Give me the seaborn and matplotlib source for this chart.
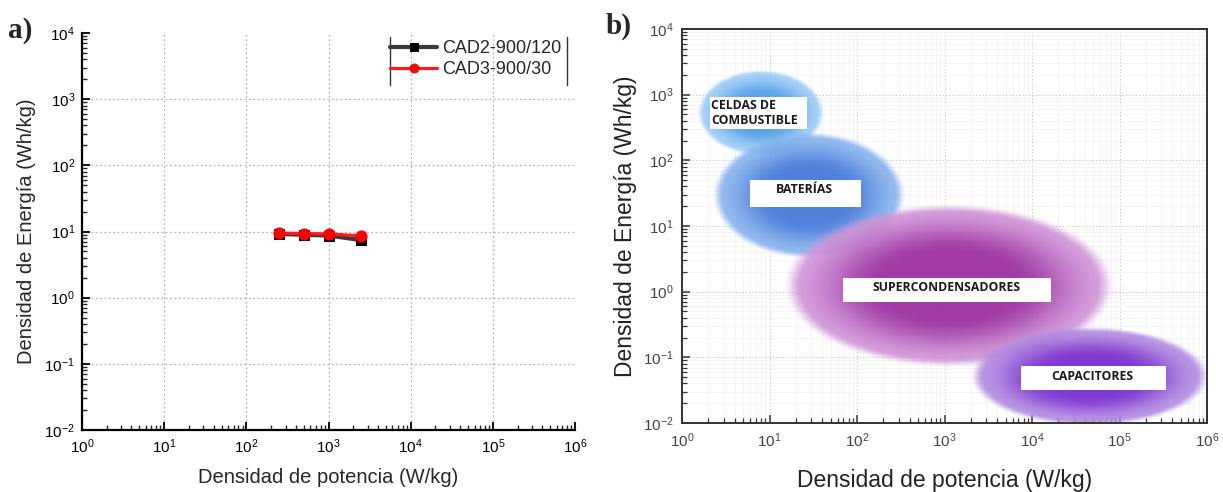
import numpy as np
import pandas as pd
import matplotlib
matplotlib.use("Agg")
import matplotlib.pyplot as plt
from matplotlib.patches import Rectangle
from matplotlib.ticker import LogLocator, NullFormatter
import seaborn as sns

# ---- Panel a: measured cells ----
power_cad2 = [250, 500, 1000, 2500]          # W/kg
energy_cad2 = [9.2, 8.9, 8.7, 7.4]           # Wh/kg
power_cad3 = [250, 500, 1000, 2500]
energy_cad3 = [9.5, 9.3, 9.2, 8.6]
series_names = ["CAD2-900/120", "CAD3-900/30"]

# ---- Panel b: Ragone regions (log10 centre and log10 half-widths) ----
region_names = ["CELDAS DE\nCOMBUSTIBLE", "BATERÍAS", "SUPERCONDENSADORES", "CAPACITORES"]
region_logx = [0.90, 1.45, 3.05, 4.66]
region_logy = [2.725, 1.47, 0.093, -1.29]
region_halfx = [0.72, 1.09, 1.865, 1.35]
region_halfy = [0.65, 0.955, 1.23, 0.75]

sns.set_style("white")
plt.rcParams["font.family"] = ["Liberation Sans", "DejaVu Sans"]
plt.rcParams["mathtext.fontset"] = "custom"
plt.rcParams["mathtext.rm"] = "Liberation Sans"
plt.rcParams["mathtext.it"] = "Liberation Sans:italic"
plt.rcParams["mathtext.bf"] = "Liberation Sans:bold"

fig = plt.figure(figsize=(12.23, 4.92), dpi=100)
ax1 = fig.add_axes([82 / 1223, 62 / 492, 493 / 1223, 397 / 492])
ax2 = fig.add_axes([682 / 1223, 69 / 492, 525 / 1223, 394 / 492])

# ================= Panel a =================
ax1.set_xscale("log")
ax1.set_yscale("log")
ax1.set_xlim(1, 1e6)
ax1.set_ylim(1e-2, 1e4)

# dotted decade grid inside the frame
for e in range(1, 6):
    ax1.axvline(10.0 ** e, color="#b5b5b5", ls=(0, (1.5, 2)), lw=0.9, zorder=0)
for e in range(-1, 4):
    ax1.axhline(10.0 ** e, color="#b5b5b5", ls=(0, (1.5, 2)), lw=0.9, zorder=0)

df2 = pd.DataFrame({"p": power_cad2, "e": energy_cad2})
df3 = pd.DataFrame({"p": power_cad3, "e": energy_cad3})
sns.lineplot(data=df2, x="p", y="e", ax=ax1, color="#3a3a3a", lw=3.0,
             marker="s", markersize=7, markerfacecolor="black",
             markeredgecolor="black", label=series_names[0], zorder=3)
sns.lineplot(data=df3, x="p", y="e", ax=ax1, color="#ff1a1a", lw=2.3,
             marker="o", markersize=8, markerfacecolor="#ff0000",
             markeredgecolor="#ff0000", label=series_names[1], zorder=4)

for s in ["top", "right"]:
    ax1.spines[s].set_visible(False)
for s in ["left", "bottom"]:
    ax1.spines[s].set_color("black")
    ax1.spines[s].set_linewidth(1.6)

ax1.xaxis.set_major_locator(LogLocator(base=10, numticks=10))
ax1.yaxis.set_major_locator(LogLocator(base=10, numticks=10))
ax1.xaxis.set_minor_locator(LogLocator(base=10, subs=np.arange(2, 10), numticks=20))
ax1.yaxis.set_minor_locator(LogLocator(base=10, subs=np.arange(2, 10), numticks=20))
ax1.xaxis.set_minor_formatter(NullFormatter())
ax1.yaxis.set_minor_formatter(NullFormatter())
ax1.tick_params(which="major", direction="in", length=6, width=1.3, labelsize=11,
                colors="black", bottom=True, left=True, pad=5)
ax1.tick_params(which="minor", direction="in", length=3.5, width=1.0,
                bottom=True, left=True)
ax1.set_xlabel("Densidad de potencia (W/kg)", fontsize=14.5, labelpad=9)
ax1.set_ylabel("Densidad de Energía (Wh/kg)", fontsize=14.5, labelpad=6)

leg = ax1.legend(loc="upper right", bbox_to_anchor=(0.995, 1.01), frameon=False,
                 fontsize=13, handlelength=2.6, handletextpad=0.3,
                 labelspacing=0.25, borderaxespad=0.2, markerscale=0.8)
# legend box drawn with side rules only
for xr in (0.625, 0.984):
    ax1.plot([xr, xr], [0.868, 0.99], transform=ax1.transAxes, color="#333333",
             lw=1.0, clip_on=False)

fig.text(8 / 1223, 1 - 30 / 492, "a)", fontsize=21, fontweight="bold",
         family="Liberation Serif", va="center", ha="left")

# ================= Panel b =================
ax2.set_xscale("log")
ax2.set_yscale("log")
ax2.set_xlim(1, 1e6)
ax2.set_ylim(1e-2, 1e4)
ax2.set_axisbelow(True)

ax2.xaxis.set_major_locator(LogLocator(base=10, numticks=10))
ax2.yaxis.set_major_locator(LogLocator(base=10, numticks=10))
ax2.xaxis.set_minor_locator(LogLocator(base=10, subs=np.arange(2, 10), numticks=20))
ax2.yaxis.set_minor_locator(LogLocator(base=10, subs=np.arange(2, 10), numticks=20))
ax2.xaxis.set_minor_formatter(NullFormatter())
ax2.yaxis.set_minor_formatter(NullFormatter())
ax2.grid(True, which="minor", color="#f2f2f2", lw=0.6, ls="-")
ax2.grid(True, which="major", color="#c8c8c8", lw=0.8, ls=(0, (1.2, 1.8)))

# soft radial-gradient regions composited in log space
n = 700
lx_edges = np.linspace(0, 6, n + 1)
ly_edges = np.linspace(-2, 4, n + 1)
lxc = 0.5 * (lx_edges[1:] + lx_edges[:-1])
lyc = 0.5 * (ly_edges[1:] + ly_edges[:-1])
LX, LY = np.meshgrid(lxc, lyc)

centre_cols = ["#4c9ce8", "#3d72d6", "#9a2a9e", "#7426cc"]
edge_cols = ["#9fcdf7", "#86b3ee", "#cf95d7", "#b28de1"]
max_alpha = [0.92, 0.9, 0.92, 0.9]


def smooth(a, b, v):
    t = np.clip((v - a) / (b - a), 0, 1)
    return t * t * (3 - 2 * t)


rgb = np.zeros(LX.shape + (3,))
alpha = np.zeros(LX.shape)
for i in range(len(region_names)):
    r = np.sqrt(((LX - region_logx[i]) / region_halfx[i]) ** 2 +
                ((LY - region_logy[i]) / region_halfy[i]) ** 2)
    c0 = np.array(matplotlib.colors.to_rgb(centre_cols[i]))
    c1 = np.array(matplotlib.colors.to_rgb(edge_cols[i]))
    t = smooth(0.4, 0.95, r)[..., None]
    col = c0 * (1 - t) + c1 * t
    a = max_alpha[i] * (1 - smooth(0.9, 1.02, r))
    rgb = col * a[..., None] + rgb * (1 - a[..., None])
    alpha = a + alpha * (1 - a)

rgba = np.zeros(LX.shape + (4,))
safe = np.where(alpha > 1e-6, alpha, 1)
rgba[..., :3] = np.clip(rgb / safe[..., None], 0, 1)
rgba[..., 3] = alpha
ax2.pcolormesh(10 ** lx_edges, 10 ** ly_edges, rgba, shading="flat", zorder=1,
               rasterized=True)

# white label boxes (axes-fraction placement)
boxes = [(0.053, 0.745, 0.185, 0.083),
         (0.1286, 0.548, 0.213, 0.069),
         (0.306, 0.308, 0.396, 0.061),
         (0.645, 0.084, 0.276, 0.061)]
text_pos = [(0.055, 0.787, "left"),
            (0.234, 0.593, "center"),
            (0.503, 0.345, "center"),
            (0.782, 0.119, "center")]
for (bx, by, bw, bh), (tx, ty, ha), name in zip(boxes, text_pos, region_names):
    ax2.add_patch(Rectangle((bx, by), bw, bh, transform=ax2.transAxes,
                            facecolor="white", edgecolor="none", zorder=5))
    ax2.text(tx, ty, name, transform=ax2.transAxes, ha=ha, va="center",
             family="Open Sans", fontweight="bold", fontsize=8.8,
             color="#1a1a1a", linespacing=1.15, zorder=6)

for s in ax2.spines.values():
    s.set_color("#333333")
    s.set_linewidth(1.4)
    s.set_zorder(7)
ax2.tick_params(which="major", direction="in", length=6, width=1.1, labelsize=11,
                labelcolor="#444444", color="#333333", bottom=True, left=True, pad=6)
ax2.tick_params(which="minor", direction="in", length=3.5, width=0.9,
                color="#333333", bottom=True, left=True)
ax2.set_xlabel("Densidad de potencia (W/kg)", fontsize=16.5, labelpad=14,
               color="#222222")
ax2.set_ylabel("Densidad de Energía (Wh/kg)", fontsize=16.5, labelpad=4,
               color="#222222")

fig.text(606 / 1223, 1 - 26 / 492, "b)", fontsize=21, fontweight="bold",
         family="Liberation Serif", va="center", ha="left")

fig.savefig("out.png", dpi=100, facecolor="white")
